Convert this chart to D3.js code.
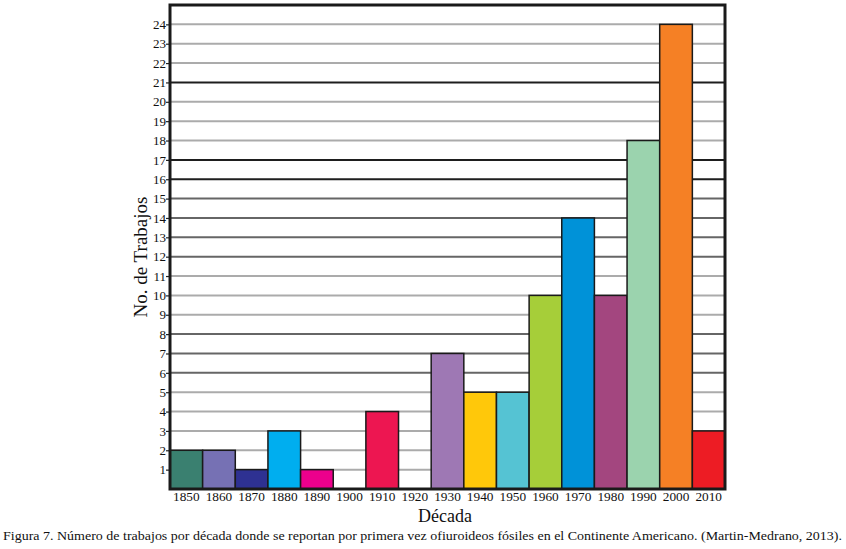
<!DOCTYPE html>
<html><head><meta charset="utf-8">
<script src="https://cdn.jsdelivr.net/npm/d3@7"></script>
<style>body{margin:0;background:#fff}svg{display:block}</style>
</head><body>
<script>
const decades = ["1850","1860","1870","1880","1890","1900","1910","1920","1930","1940","1950","1960","1970","1980","1990","2000","2010"];
const counts = [2,2,1,3,1,0,4,0,7,5,5,10,14,10,18,24,3];
const colors = ["#3a8070","#7671b4","#2e3192","#00aeef","#ec008c","#ffffff","#ed1651","#ffffff","#9e78b4","#ffc80a","#55c3d3","#a6ce39","#0092d8","#a3467f","#9bd3ae","#f58025","#ed1c24"];
const yTicks = d3.range(1,25);
const W=846,H=549;
const L=170,R=725,T=5,B=489;
const svg=d3.select("body").append("svg").attr("width",W).attr("height",H);
const x=d3.scaleBand().domain(decades).range([L,R]).padding(0);
const y=d3.scaleLinear().domain([0,25]).range([B,T]);
const font="Liberation Serif, Times New Roman, serif";
function gridColor(v){ if([21,17,16].includes(v)) return "#1e1e1e"; if([15,14,13,12,8,7,6].includes(v)) return "#666666"; return "#ababab";}
svg.append("g").selectAll("line").data(yTicks).join("line")
 .attr("x1",L).attr("x2",R).attr("y1",d=>y(d)).attr("y2",d=>y(d))
 .attr("stroke",d=>gridColor(d)).attr("stroke-width",2);
svg.append("g").selectAll("rect").data(decades.map((d,i)=>({d,v:counts[i],c:colors[i]})).filter(o=>o.v>0)).join("rect")
 .attr("x",o=>x(o.d)).attr("width",x.bandwidth()).attr("y",o=>y(o.v)).attr("height",o=>B-y(o.v))
 .attr("fill",o=>o.c).attr("stroke","#1a1a1a").attr("stroke-width",1.5);
const ya=svg.append("g").attr("transform",`translate(${L},0)`).call(d3.axisLeft(y).tickValues(yTicks).tickSize(4).tickPadding(0).tickFormat(d3.format("d")));
ya.select(".domain").remove();
ya.selectAll("line").attr("stroke","#222").attr("stroke-width",1.2);
ya.selectAll("text").attr("font-family",font).attr("font-size",13).attr("fill","#111");
const xa=svg.append("g").attr("transform",`translate(0,${B})`).call(d3.axisBottom(x).tickSize(0).tickPadding(3));
xa.select(".domain").remove();
xa.selectAll("text").attr("font-family",font).attr("font-size",13.3).attr("fill","#111");
svg.append("rect").attr("x",L).attr("y",T).attr("width",R-L).attr("height",B-T).attr("fill","none").attr("stroke","#1a1a1a").attr("stroke-width",3);
svg.append("text").attr("transform","translate(147,257) rotate(-90)").attr("text-anchor","middle").attr("font-family",font).attr("font-size",19).attr("fill","#111").text("No. de Trabajos");
svg.append("text").attr("x",445).attr("y",522).attr("text-anchor","middle").attr("font-family",font).attr("font-size",18).attr("fill","#111").text("Década");
svg.append("text").attr("x",3).attr("y",540).attr("textLength",839).attr("lengthAdjust","spacingAndGlyphs").attr("font-family",font).attr("font-size",13.5).attr("fill","#111").text("Figura 7. Número de trabajos por década donde se reportan por primera vez ofiuroideos fósiles en el Continente Americano. (Martin-Medrano, 2013).");
</script>
</body></html>
